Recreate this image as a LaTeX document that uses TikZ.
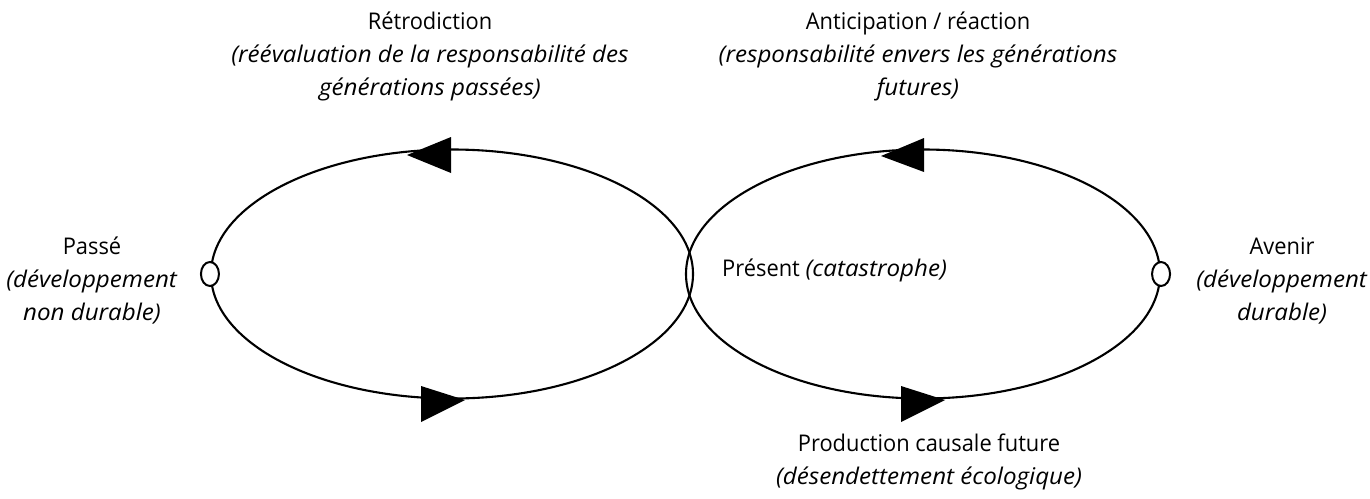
\documentclass[tikz,border=0pt]{standalone}
\usepackage{fontspec}
\setmainfont[FakeStretch=0.95,ItalicFeatures={FakeStretch=1.05}]{Open Sans}
\usetikzlibrary{shapes.geometric}
\begin{document}
\begin{tikzpicture}[x=1pt,y=-1pt,
  loop/.style={draw, line width=2.1pt, ellipse, inner sep=0pt},
  port/.style={draw, fill=white, line width=2pt, ellipse, minimum width=18pt, minimum height=24pt, inner sep=0pt},
  lbl/.style={align=center, font=\fontsize{23}{33}\selectfont, inner sep=0pt},
  tipfill/.style={fill=black}]
\useasboundingbox (0,0) rectangle (1370,498);
% loops
\node[loop, minimum width=482pt, minimum height=249pt] (L) at (452,274) {};
\node[loop, minimum width=474pt, minimum height=249pt] (R) at (923,274) {};
% arrow heads
\fill[tipfill] (451,137) -- (407,155) -- (451,173) -- cycle;
\fill[tipfill] (421,386) -- (465,400) -- (421,422) -- cycle;
\fill[tipfill] (924,138) -- (881,156) -- (924,172) -- cycle;
\fill[tipfill] (901,386) -- (945,400) -- (901,422) -- cycle;
% ports
\node[port] (pPast) at (L.west) {};
\node[port] (pFut) at (R.east) {};
% labels
\node[lbl] (retro) at (430,56) {Rétrodiction\\\textit{(réévaluation de la responsabilité des}\\\textit{générations passées)}};
\node[lbl] (antic) at (918,56) {Anticipation / réaction\\\textit{(responsabilité envers les générations}\\\textit{futures)}};
\node[lbl] (passe) at (92,281) {Passé\\\textit{(développement}\\\textit{non durable)}};
\node[lbl] (avenir) at (1282,281) {Avenir\\\textit{(développement}\\\textit{durable)}};
\node[lbl, anchor=west] (present) at (722,270) {Présent \textit{(catastrophe)}};
\node[lbl] (prod) at (929,462) {Production causale future\\\textit{(désendettement écologique)}};
\end{tikzpicture}
\end{document}
